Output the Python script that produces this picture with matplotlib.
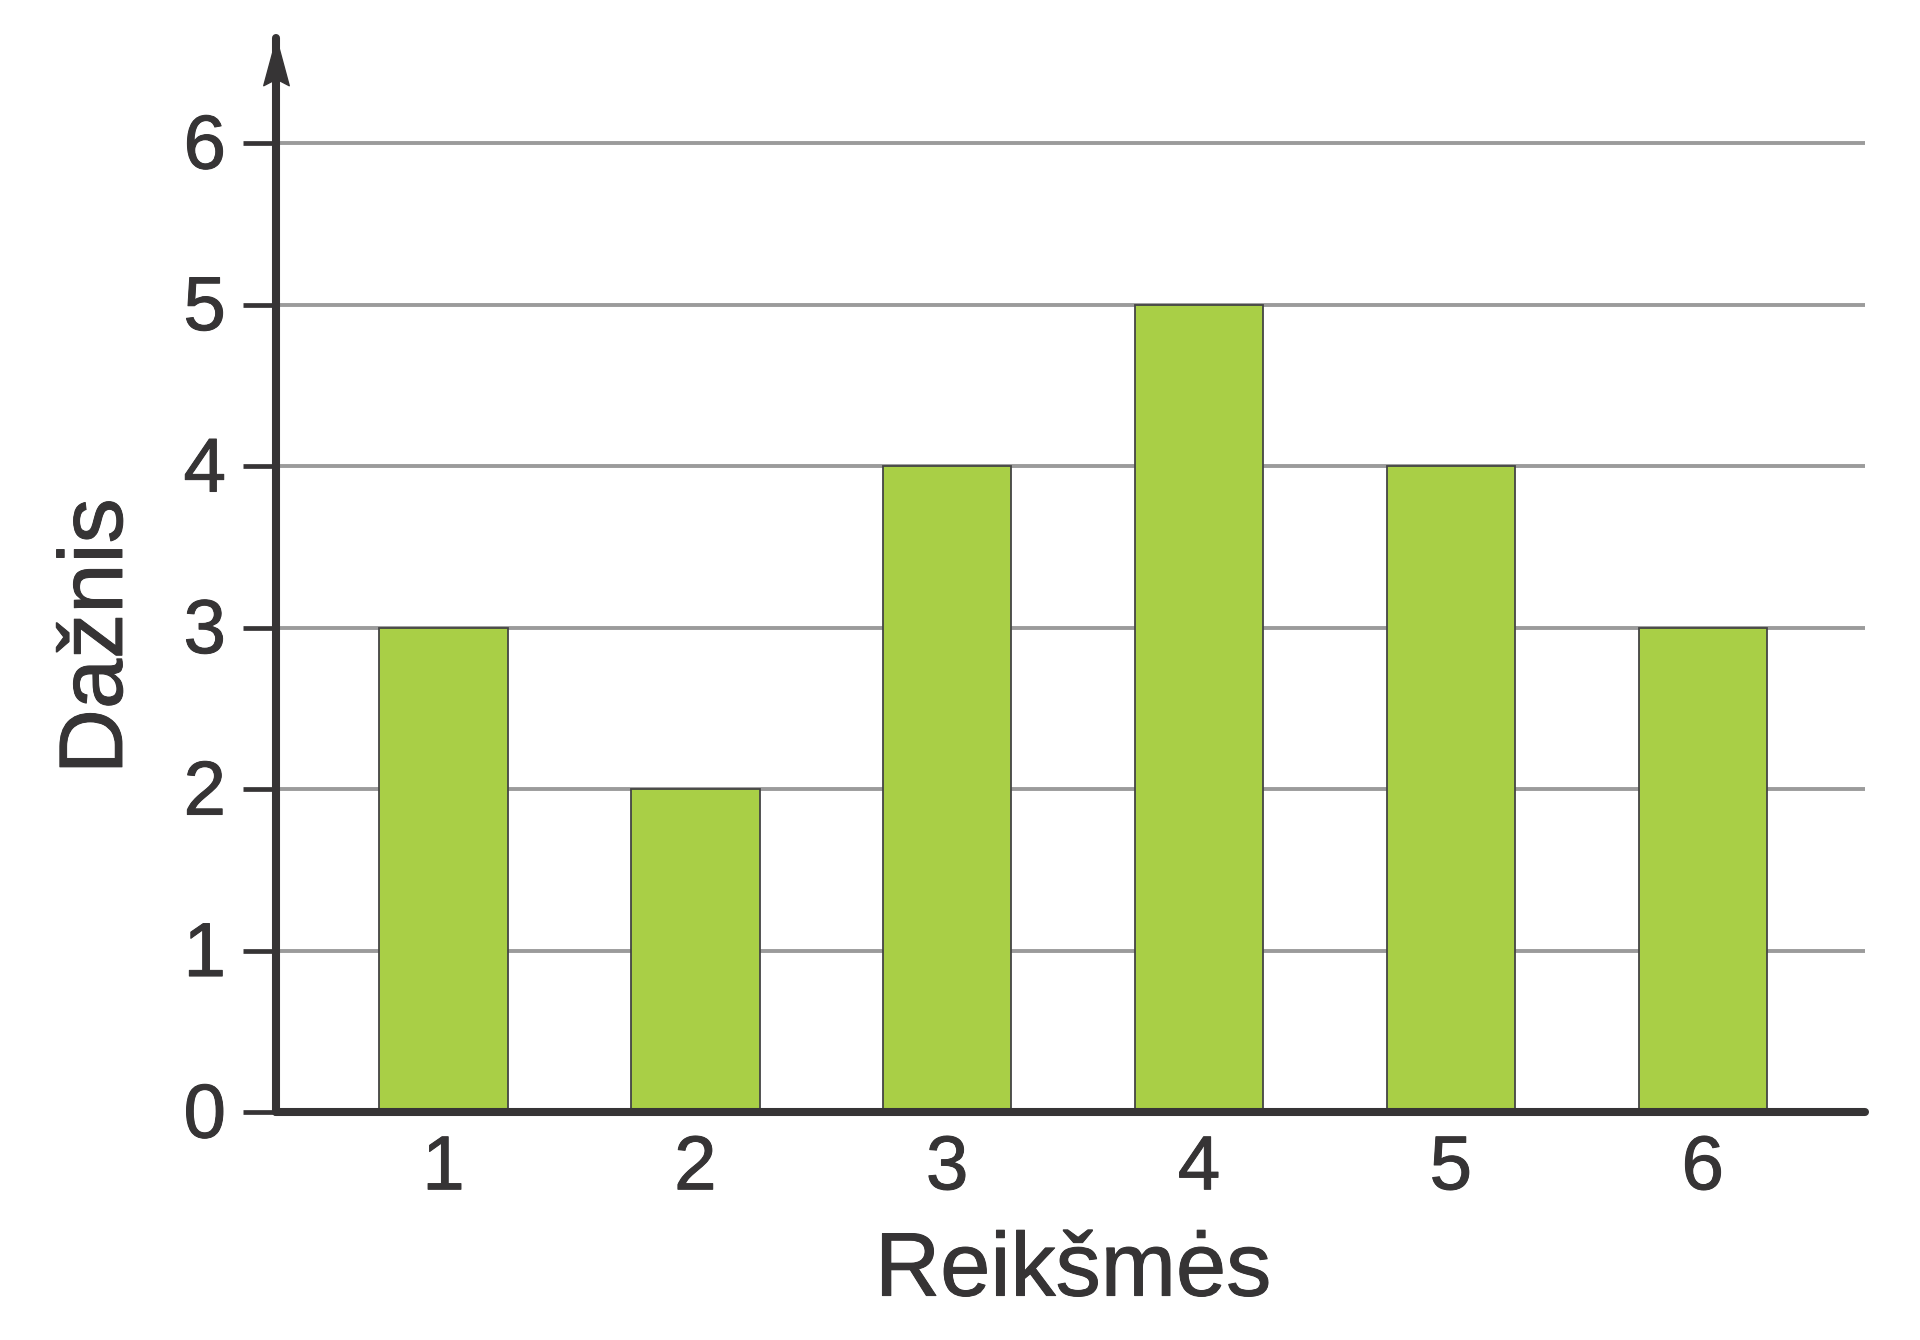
import matplotlib
matplotlib.use("Agg")
import matplotlib.pyplot as plt
from matplotlib.path import Path
import matplotlib.patheffects as pe
from matplotlib.transforms import ScaledTranslation

categories = [1, 2, 3, 4, 5, 6]
values = [3, 2, 4, 5, 4, 3]
yticks = [0, 1, 2, 3, 4, 5, 6]

dark = '#363435'
green = '#A9CF46'
grid = '#9b9b9b'

plt.rcParams['font.family'] = ['Liberation Sans', 'DejaVu Sans']

fig = plt.figure(figsize=(19.2, 13.4), dpi=100)
ax = fig.add_axes([0.14375, 0.1701, 0.8277, 0.8015])

ax.set_xlim(0.335, 6.645)
ax.set_ylim(0, 6.65)

for y in yticks[1:]:
    ax.axhline(y, color=grid, lw=2.8, zorder=1)

ax.bar(categories, values, width=0.51, color=green, edgecolor='#444444', linewidth=1.3, zorder=2)

for s in ['top', 'right']:
    ax.spines[s].set_visible(False)
for s in ['left', 'bottom']:
    ax.spines[s].set_color(dark)
    ax.spines[s].set_linewidth(5.8)
    ax.spines[s].set_capstyle('round')
    ax.spines[s].set_zorder(4)

thick = [pe.withStroke(linewidth=0.7, foreground=dark)]

ax.set_yticks(yticks)
ax.set_yticklabels([str(t) for t in yticks])
ax.set_xticks(categories)
ax.set_xticklabels([str(c) for c in categories])
ax.tick_params(axis='y', length=24, width=3.4, color=dark, labelsize=55, labelcolor=dark, pad=12)
ax.tick_params(axis='x', length=0, labelsize=55, labelcolor=dark, pad=16)
shift = ScaledTranslation(0, -0.06, fig.dpi_scale_trans)
for lab in ax.get_yticklabels():
    lab.set_va('center')
    lab.set_transform(lab.get_transform() + shift)
    lab.set_path_effects(thick)
for lab in ax.get_xticklabels():
    lab.set_path_effects(thick)

# arrow head on y axis
arrow = Path([(0, 0), (-0.27, -1), (0, -0.86), (0.27, -1), (0, 0)],
             [Path.MOVETO, Path.LINETO, Path.LINETO, Path.LINETO, Path.CLOSEPOLY])
ax.plot([0.335], [6.65], marker=arrow, markersize=68, color=dark, mec=dark, mew=1,
        clip_on=False, zorder=5)

ax.set_xlabel('Reikšmės', fontsize=65, color=dark, va='center', path_effects=thick)
ax.set_ylabel('Dažnis', fontsize=65, color=dark, va='center', path_effects=thick)
ax.xaxis.set_label_coords(0.5016, -0.149)
ax.yaxis.set_label_coords(-0.1117, 0.443)

fig.savefig('out.png', dpi=100, facecolor='white')
